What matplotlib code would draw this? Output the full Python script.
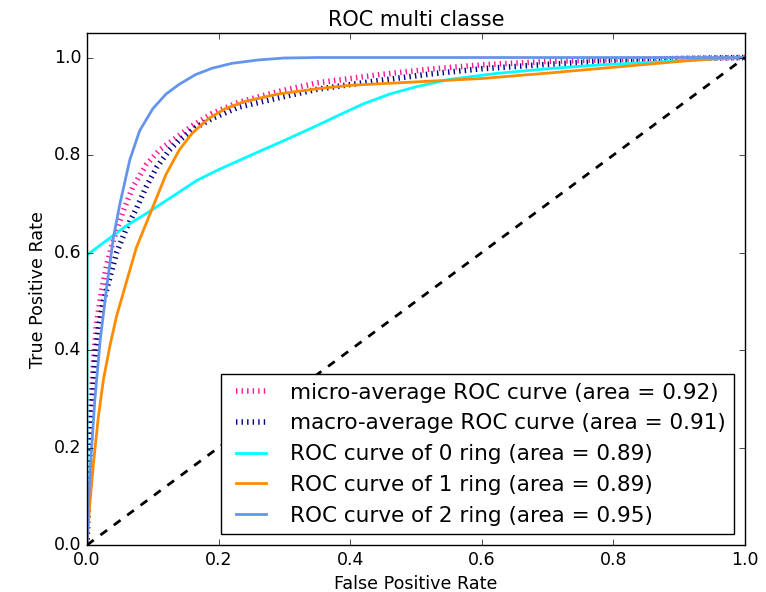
import matplotlib
matplotlib.use('Agg')
import matplotlib.pyplot as plt

plt.style.use('classic')

# points (fpr, tpr)
micro_fpr = [0.0, 0.002, 0.005, 0.01, 0.015, 0.022, 0.03, 0.04, 0.055, 0.07, 0.09, 0.11, 0.13,
             0.16, 0.19, 0.23, 0.29, 0.35, 0.445, 0.52, 0.6, 0.7, 0.805, 0.9, 1.0]
micro_tpr = [0.0, 0.15, 0.27, 0.38, 0.46, 0.52, 0.575, 0.625, 0.685, 0.735, 0.78, 0.81, 0.83,
             0.86, 0.885, 0.908, 0.93, 0.948, 0.965, 0.976, 0.985, 0.992, 0.996, 0.998, 1.0]

macro_fpr = [0.0, 0.003, 0.007, 0.012, 0.018, 0.025, 0.035, 0.045, 0.06, 0.075, 0.09, 0.106, 0.125,
             0.14, 0.165, 0.19, 0.23, 0.293, 0.35, 0.445, 0.52, 0.6, 0.7, 0.805, 0.9, 1.0]
macro_tpr = [0.0, 0.14, 0.27, 0.38, 0.45, 0.5, 0.55, 0.6, 0.65, 0.69, 0.735, 0.775, 0.81,
             0.83, 0.856, 0.875, 0.898, 0.918, 0.935, 0.953, 0.966, 0.977, 0.986, 0.994, 0.998, 1.0]

c0_fpr = [0.0, 0.0, 0.03, 0.06, 0.09, 0.13, 0.167, 0.2, 0.243, 0.3, 0.344, 0.38, 0.42, 0.46,
          0.5, 0.55, 0.62, 0.7, 0.78, 0.856, 0.93, 1.0]
c0_tpr = [0.0, 0.595, 0.625, 0.655, 0.68, 0.715, 0.748, 0.77, 0.796, 0.83, 0.857, 0.88, 0.905, 0.925,
          0.94, 0.955, 0.967, 0.977, 0.985, 0.99, 0.996, 1.0]

c1_fpr = [0.0, 0.004, 0.01, 0.017, 0.025, 0.035, 0.045, 0.06, 0.075, 0.09, 0.105, 0.12, 0.14,
          0.16, 0.185, 0.21, 0.24, 0.29, 0.35, 0.4, 0.5, 0.6, 0.7, 0.8, 0.9, 0.96, 1.0]
c1_tpr = [0.0, 0.08, 0.17, 0.26, 0.34, 0.41, 0.47, 0.54, 0.61, 0.66, 0.71, 0.76, 0.81,
          0.845, 0.875, 0.895, 0.91, 0.925, 0.936, 0.943, 0.95, 0.957, 0.968, 0.98, 0.992, 0.998, 1.0]

c2_fpr = [0.0, 0.002, 0.006, 0.012, 0.02, 0.03, 0.04, 0.05, 0.065, 0.08, 0.1, 0.12, 0.14,
          0.165, 0.19, 0.22, 0.26, 0.3, 0.35, 1.0]
c2_tpr = [0.0, 0.08, 0.18, 0.30, 0.42, 0.53, 0.63, 0.70, 0.79, 0.85, 0.895, 0.925, 0.945,
          0.965, 0.978, 0.988, 0.995, 0.999, 1.0, 1.0]

labels = ['micro-average ROC curve (area = 0.92)',
          'macro-average ROC curve (area = 0.91)',
          'ROC curve of 0 ring (area = 0.89)',
          'ROC curve of 1 ring (area = 0.89)',
          'ROC curve of 2 ring (area = 0.95)']

fig = plt.figure(figsize=(7.66, 5.92), dpi=100, facecolor='white')
ax = fig.add_axes([0.1136, 0.0794, 0.8590, 0.8646])

ax.plot(micro_fpr, micro_tpr, label=labels[0], color='deeppink', linestyle=':', linewidth=4)
ax.plot(macro_fpr, macro_tpr, label=labels[1], color='navy', linestyle=':', linewidth=4)
ax.plot(c0_fpr, c0_tpr, color='aqua', lw=2, label=labels[2])
ax.plot(c1_fpr, c1_tpr, color='darkorange', lw=2, label=labels[3])
ax.plot(c2_fpr, c2_tpr, color='cornflowerblue', lw=2, label=labels[4])

ax.plot([0, 1], [0, 1], 'k--', lw=2)
ax.set_xlim([0.0, 1.0])
ax.set_ylim([0.0, 1.05])
ax.set_xlabel('False Positive Rate', fontsize=12.6)
ax.set_ylabel('True Positive Rate', fontsize=12.6)
ax.set_title('ROC multi classe', fontsize=15)
ax.tick_params(labelsize=12.5)
ax.legend(loc="lower right", fontsize=15.5)

plt.savefig('out.png', dpi=100, facecolor='white')
